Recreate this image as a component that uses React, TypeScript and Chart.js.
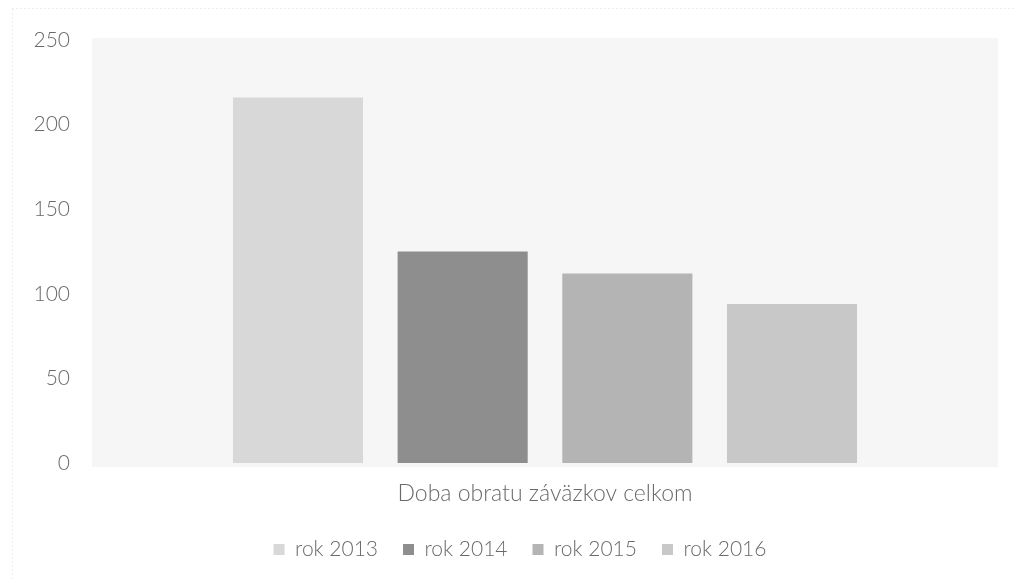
import React, { useEffect, useRef } from "react";
import { Chart, registerables } from "chart.js";

Chart.register(...registerables);

const categories = ["Doba obratu záväzkov celkom"];
const seriesNames = ["rok 2013", "rok 2014", "rok 2015", "rok 2016"];
const seriesValues = [[216], [125], [112], [94]];
const seriesColors = ["#d8d8d8", "#8e8e8e", "#b4b4b4", "#c8c8c8"];
const yTicks = [0, 50, 100, 150, 200, 250];

const plotBg = {
  id: "plotBg",
  beforeDraw(chart: any) {
    const { ctx, chartArea, width, height } = chart;
    ctx.save();
    ctx.fillStyle = "#f6f6f6";
    ctx.fillRect(chartArea.left, chartArea.top - 2, chartArea.right - chartArea.left, chartArea.bottom - chartArea.top + 6);
    ctx.strokeStyle = "#dddddd";
    ctx.lineWidth = 1;
    ctx.setLineDash([1, 3]);
    ctx.strokeRect(12.5, 8.5, width + 10, height + 10);
    ctx.restore();
  },
};

const fam = "Lato, 'Open Sans', sans-serif";
const textColor = "#6a6a6a";

export default function App() {
  const ref = useRef<HTMLCanvasElement>(null);
  useEffect(() => {
    const chart = new Chart(ref.current!, {
      type: "bar",
      data: {
        labels: categories,
        datasets: seriesNames.map((n, i) => ({
          label: n,
          data: seriesValues[i],
          backgroundColor: seriesColors[i],
          borderWidth: 0,
          categoryPercentage: 0.727,
          barPercentage: 0.79,
        })),
      },
      options: {
        animation: false,
        responsive: false,
        layout: { padding: { left: 24, right: 0, top: 40, bottom: 9 } },
        plugins: {
          tooltip: { enabled: false },
          legend: {
            position: "bottom",
            labels: {
              color: textColor,
              font: { family: fam, size: 21, weight: 300 as any },
              boxWidth: 11,
              boxHeight: 11,
              padding: 25,
            },
          },
        },
        scales: {
          x: {
            afterFit: (s: any) => {
              s.height = 51;
              s.paddingLeft = 0;
              s.paddingRight = 0;
            },
            grid: { display: false, drawTicks: false },
            border: { display: false },
            ticks: { color: textColor, font: { family: fam, size: 23, weight: 300 as any }, padding: 17 },
          },
          y: {
            min: 0,
            max: 250,
            afterBuildTicks: (s: any) => {
              s.ticks = yTicks.map((v) => ({ value: v }));
            },
            afterFit: (s: any) => {
              s.width = 68;
              s.paddingTop = 0;
              s.paddingBottom = 0;
            },
            grid: { display: false, drawTicks: false },
            border: { display: false },
            ticks: { color: textColor, font: { family: fam, size: 21, weight: 300 as any }, padding: 22 },
          },
          y1: {
            position: "right",
            display: true,
            afterFit: (s: any) => {
              s.width = 18;
              s.paddingTop = 0;
              s.paddingBottom = 0;
            },
            grid: { display: false, drawTicks: false },
            border: { display: false },
            ticks: { display: false },
          },
        },
      },
      plugins: [plotBg],
    });
    return () => chart.destroy();
  }, []);
  return (
    <div style={{ position: "fixed", left: 0, top: 0, width: 1016, height: 579, background: "#fff" }}>
      <canvas ref={ref} width={1016} height={579} style={{ display: "block" }} />
    </div>
  );
}
